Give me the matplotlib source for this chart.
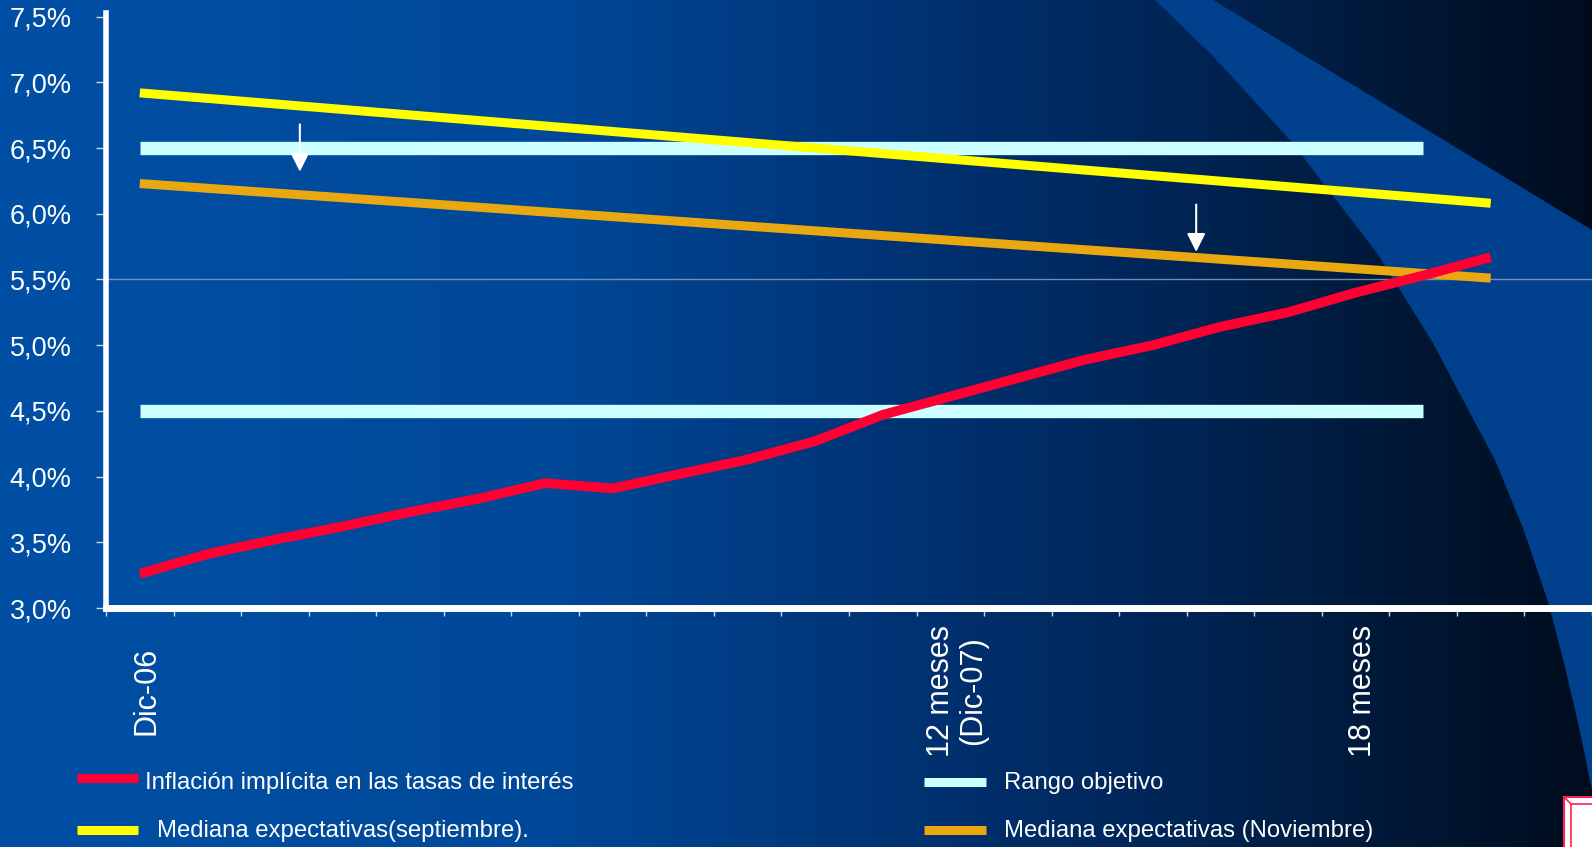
import numpy as np
import matplotlib
matplotlib.use("Agg")
import matplotlib.pyplot as plt
from matplotlib.patches import Polygon, Rectangle
from matplotlib.lines import Line2D
from matplotlib.transforms import ScaledTranslation

plt.rcParams['font.family'] = ['Liberation Sans', 'DejaVu Sans']

# --- data ---
categorias = ['Dic-06', '', '', '', '', '', '', '', '', '', '', '',
              '12 meses\n(Dic-07)', '', '', '', '', '', '18 meses', '', '', '']

inflacion_implicita = [3.26, 3.41, 3.52, 3.62, 3.73, 3.83, 3.95, 3.91, 4.02, 4.13, 4.27,
                       4.47, 4.61, 4.75, 4.89, 5.00, 5.14, 5.25, 5.40, 5.53, 5.67]

sep_meses = [0, 20]
mediana_septiembre = [6.92, 6.08]

nov_meses = [0, 20]
mediana_noviembre = [6.23, 5.51]

rango_meses = [0, 19]
rango_inferior = 4.5
rango_superior = 6.5

linea_referencia = 5.5

flechas_mes = [2.37, 15.64]
flechas_desde = [6.68, 6.07]
flechas_hasta = [6.32, 5.71]

yticks = [3.0, 3.5, 4.0, 4.5, 5.0, 5.5, 6.0, 6.5, 7.0, 7.5]

W, H = 1592, 847
fig = plt.figure(figsize=(W / 100, H / 100), dpi=100)

# --- slide background: horizontal gradient + curved band ---
bg = fig.add_axes([0, 0, 1, 1], zorder=0)
stops = [0.0, 0.35, 0.55, 0.75, 0.9, 1.0]
reds = [0, 0, 0, 0, 0, 0]
greens = [80, 72, 52, 36, 22, 12]
blues = [166, 152, 118, 84, 50, 30]
xs = np.linspace(0, 1, 600)
grad = np.stack([np.interp(xs, stops, reds), np.interp(xs, stops, greens),
                 np.interp(xs, stops, blues)], axis=-1)[None, :, :] / 255.0
bg.imshow(grad, extent=[0, W, H, 0], aspect='auto')
banda = [(1155, 0), (1212, 55), (1290, 140), (1377, 253), (1433, 343), (1463, 400),
         (1495, 460), (1523, 528), (1549, 605), (1565, 667), (1579, 727), (1592, 790),
         (1592, 230), (1213, 0)]
bg.add_patch(Polygon(banda, closed=True, facecolor='#00408c', edgecolor='none'))
bg.add_patch(Rectangle((1564, 797), 40, 60, facecolor='white', edgecolor='#ff2050', lw=1.5))
bg.add_patch(Rectangle((1571, 804), 40, 60, facecolor='none', edgecolor='#ff2050', lw=1.2))
bg.plot([1564, 1571], [797, 804], color='#ff2050', lw=1.2)
bg.set_xlim(0, W)
bg.set_ylim(H, 0)
bg.axis('off')

# --- main chart ---
ax = fig.add_axes([106 / W, 239 / H, 1486 / W, (608 - 12.7) / H], zorder=1)
ax.patch.set_alpha(0)

ax.axhline(linea_referencia, color='#8fa3c2', lw=1.0, alpha=0.8, zorder=1)

for nivel in (rango_superior, rango_inferior):
    ax.plot(rango_meses, [nivel, nivel], color='#ccffff', lw=9.6,
            solid_capstyle='butt', zorder=2)
ax.plot(sep_meses, mediana_septiembre, color='#ffff00', lw=6.5, solid_capstyle='butt', zorder=3)
ax.plot(nov_meses, mediana_noviembre, color='#eaa810', lw=6.5, solid_capstyle='butt', zorder=3)
ax.plot(range(len(inflacion_implicita)), inflacion_implicita, color='#ff0033', lw=7,
        solid_capstyle='butt', solid_joinstyle='miter', zorder=4)

for xm, y0, y1 in zip(flechas_mes, flechas_desde, flechas_hasta):
    ax.annotate('', xy=(xm, y1), xytext=(xm, y0),
                arrowprops=dict(arrowstyle='-|>,head_length=0.4,head_width=0.2',
                                mutation_scale=28, color='white', lw=1.5,
                                shrinkA=0, shrinkB=0), zorder=5)

ax.set_xlim(-0.5, len(categorias) - 0.5)
ax.set_ylim(3.0, 7.53)

for s in ('top', 'right'):
    ax.spines[s].set_visible(False)
ax.spines['left'].set_color('white')
ax.spines['left'].set_linewidth(4)
ax.spines['bottom'].set_color('white')
ax.spines['bottom'].set_linewidth(5)
ax.spines['left'].set_zorder(6)
ax.spines['bottom'].set_zorder(6)

ax.set_yticks(yticks, [f"{v:.1f}%".replace('.', ',') for v in yticks])
ax.tick_params(axis='y', length=7.2, width=1, color='#c8d4e8', pad=17.5,
               labelsize=19.5, labelcolor='white')

ax.set_xticks(range(len(categorias)), categorias)
ax.set_xticks(np.arange(-0.5, len(categorias), 1), minor=True)
ax.tick_params(axis='x', which='major', length=0, pad=59.8, labelsize=22, labelcolor='white')
ax.tick_params(axis='x', which='minor', length=5.8, width=1, color='#c8d4e8')
desplaza = ScaledTranslation(7 / 100, 0, fig.dpi_scale_trans)
for lab in ax.get_xticklabels():
    lab.set_rotation(90)
    lab.set_va('center')
    lab.set_ha('center')
    lab.set_multialignment('center')
    lab.set_linespacing(1.1)
    lab.set_transform(lab.get_transform() + desplaza)

# --- legend (two columns under the chart) ---
def px(x, y):
    return x / W, 1 - y / H

leyenda = [
    ('#ff0033', 76.5, 137.8, 778, 'Inflación implícita en las tasas de interés', 145.4, 789.3),
    ('#ffff00', 76.5, 137.8, 830, 'Mediana expectativas(septiembre).', 157, 836.7),
    ('#ccffff', 924, 986, 781.7, 'Rango objetivo', 1004.5, 789.3),
    ('#eaa810', 924, 986, 830, 'Mediana expectativas (Noviembre)', 1004.5, 836.7),
]
for color, x0, x1, yl, texto, xt, yt in leyenda:
    (fx0, fy), (fx1, _) = px(x0, yl), px(x1, yl)
    fig.add_artist(Line2D([fx0, fx1], [fy, fy], color=color, lw=6.5,
                          solid_capstyle='butt', transform=fig.transFigure))
    tx, ty = px(xt, yt)
    fig.text(tx, ty, texto, color='white', fontsize=17.2, ha='left', va='baseline')

fig.savefig('out.png', dpi=100)
